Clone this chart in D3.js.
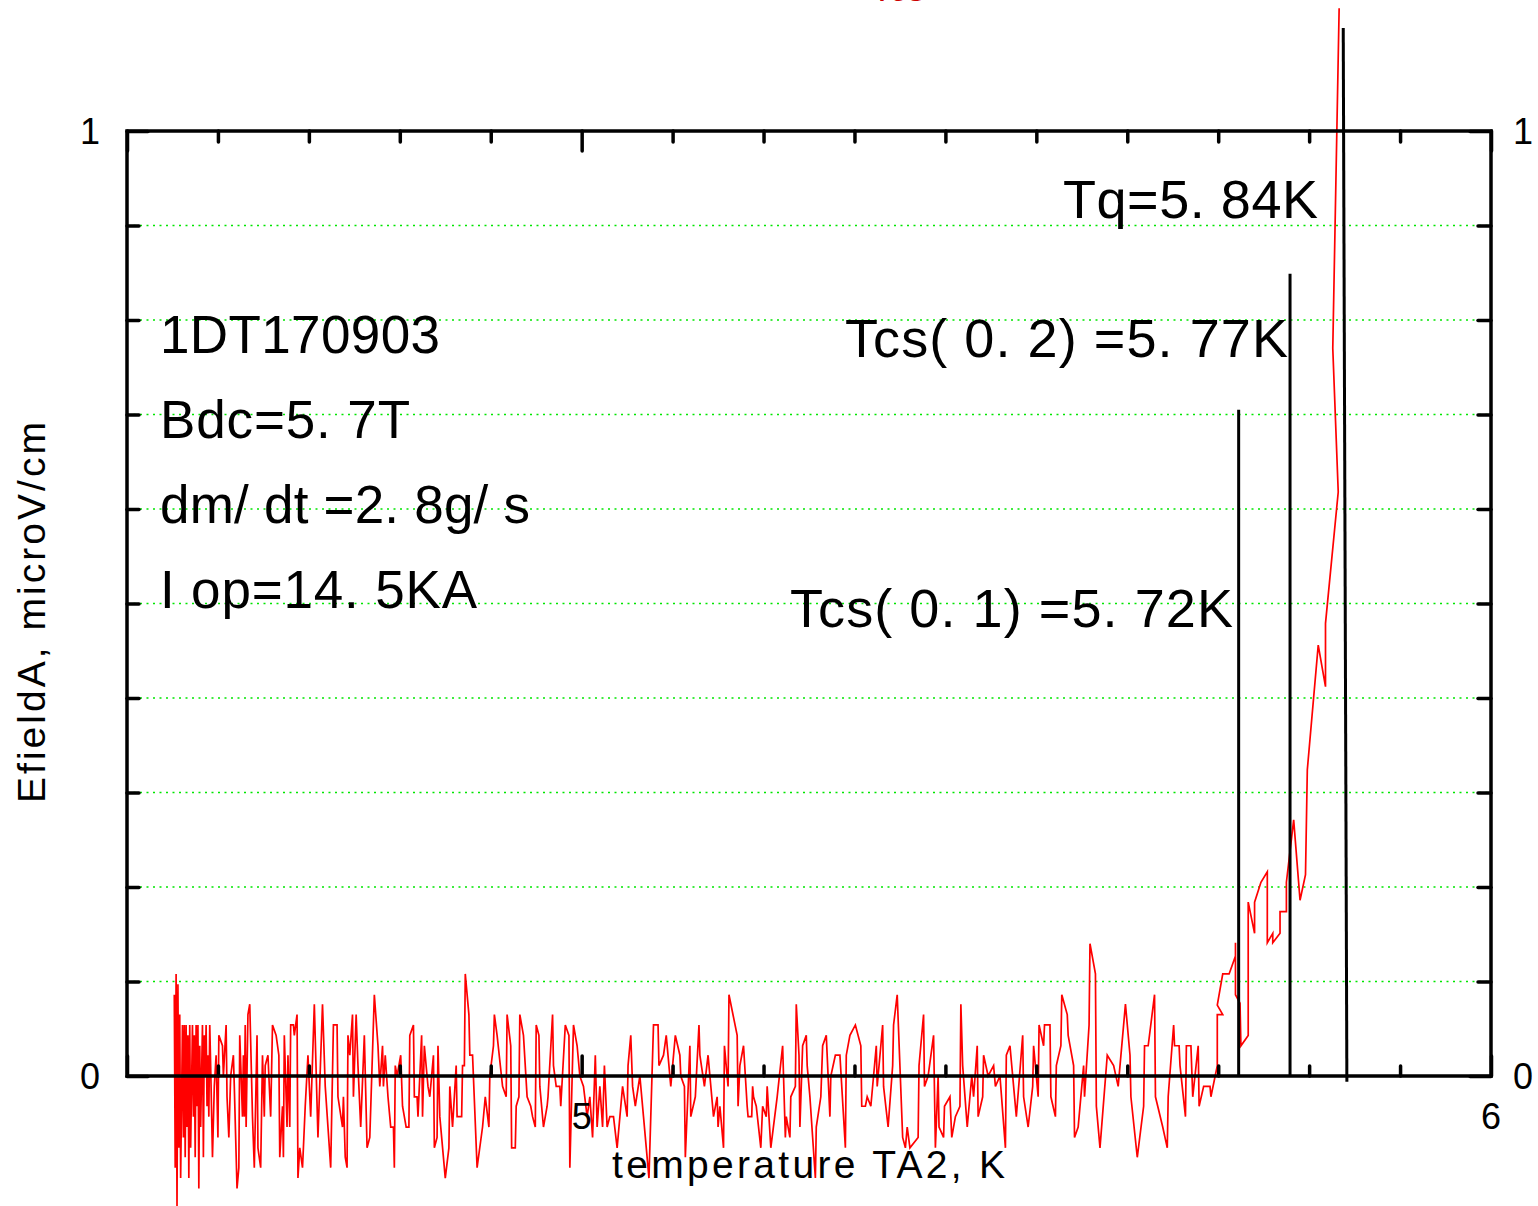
<!DOCTYPE html>
<html><head><meta charset="utf-8">
<script src="https://cdn.jsdelivr.net/npm/d3@7"></script>
<style>
html,body{margin:0;padding:0;background:#fff;}
svg{display:block;font-family:"Liberation Sans",Arial,sans-serif;}
</style></head>
<body>
<svg id="chart" width="1538" height="1206"></svg>
<script>
// ---------- data ----------
const xDomain = [4.5, 6];
const yDomain = [0, 1];
const xLabelTicks = [5, 6];
const xLabelText = ["5", "6"];
const yLabelTicks = [0, 1];
const yLabelText = ["0", "1"];
const xMinorTicks = [4.6, 4.7, 4.8, 4.9, 5.1, 5.2, 5.3, 5.4, 5.5, 5.6, 5.7, 5.8, 5.9];
const xMajorTicks = [4.5, 5, 6];
const yMinorTicks = [0.1, 0.2, 0.3, 0.4, 0.5, 0.6, 0.7, 0.8, 0.9];
const yMajorTicks = [0, 1];
const gridValues = [0.1, 0.2, 0.3, 0.4, 0.5, 0.6, 0.7, 0.8, 0.9];

// noise segment of EfieldA vs temperature TA2
const noiseT = [
4.552,4.553,4.554,4.555,4.556,4.557,4.558,4.559,4.561,4.562,4.563,4.564,4.565,4.566,4.567,4.568,4.569,4.570,4.572,4.573,
4.574,4.575,4.576,4.577,4.578,4.579,4.580,4.581,4.583,4.584,4.585,4.586,4.587,4.588,4.589,4.590,4.591,4.592,4.594,
4.596,4.598,4.599,4.600,4.601,4.605,4.606,4.609,4.610,4.612,4.614,4.617,4.618,4.621,4.623,4.624,4.627,4.628,4.629,4.630,
4.631,4.633,4.635,4.638,4.640,4.643,4.644,4.647,4.649,4.651,4.652,4.655,4.658,4.660,4.664,4.667,4.668,4.671,4.672,4.673,
4.676,4.677,4.679,4.680,4.683,4.684,4.687,4.688,4.690,4.693,4.694,4.696,4.699,4.702,4.706,4.710,4.715,4.718,4.721,4.724,
4.727,4.731,4.732,4.737,4.738,4.740,4.742,4.743,4.745,4.748,4.749,4.752,4.754,4.757,4.761,4.764,4.767,4.772,4.776,4.778,
4.781,4.782,4.784,4.787,4.790,4.793,4.794,4.795,4.797,4.801,4.803,4.807,4.810,4.811,4.815,4.816,4.819,4.820,4.824,4.825,
4.827,4.831,4.833,4.837,4.838,4.841,4.842,4.844,4.850,4.854,4.855,4.858,4.862,4.863,4.868,4.869,4.871,4.872,4.876,4.877,
4.880,4.885,4.891,4.894,4.898,4.899,4.903,4.904,4.907,4.913,4.917,4.918,4.922,4.923,4.927,4.928,4.931,4.932,4.936,4.940,
4.944,4.946,4.949,4.950,4.953,4.954,4.958,4.962,4.963,4.968,4.969,4.972,4.976,4.977,4.982,4.986,4.987,4.991,4.995,4.998,
5.002,5.006,5.009,5.012,5.015,5.017,5.020,5.023,5.025,5.028,5.031,5.035,5.039,5.045,5.050,5.051,5.054,5.056,5.059,5.064,
5.068,5.074,5.079,5.084,5.085,5.090,5.093,5.098,5.100,5.103,5.108,5.109,5.113,5.114,5.119,5.120,5.125,5.129,5.130,5.135,
5.139,5.145,5.149,5.150,5.152,5.156,5.157,5.161,5.162,5.171,5.172,5.174,5.178,5.182,5.183,5.187,5.188,5.189,5.192,5.197,
5.199,5.203,5.204,5.208,5.215,5.221,5.224,5.225,5.229,5.230,5.235,5.236,5.239,5.240,5.243,5.247,5.248,5.251,5.257,5.258,
5.263,5.265,5.269,5.273,5.274,5.279,5.284,5.290,5.291,5.295,5.301,5.307,5.308,5.312,5.314,5.318,5.324,5.325,5.331,5.332,
5.337,5.342,5.343,5.347,5.353,5.356,5.358,5.361,5.370,5.371,5.376,5.377,5.381,5.387,5.389,5.392,5.393,5.398,5.399,5.405,
5.407,5.411,5.416,5.417,5.419,5.424,5.429,5.431,5.435,5.436,5.441,5.442,5.447,5.453,5.455,5.460,5.466,5.467,5.471,5.478,
5.485,5.486,5.491,5.496,5.497,5.502,5.503,5.508,5.509,5.515,5.516,5.521,5.522,5.527,5.528,5.534,5.535,5.541,5.542,5.546,
5.552,5.553,5.558,5.559,5.565,5.566,5.570,5.578,5.585,5.590,5.598,5.603,5.604,5.611,5.618,5.619,5.623,5.630,5.631,5.639,
5.644,5.645,5.651,5.652,5.657,5.658,5.664,5.665,5.670,5.672,5.678,5.679,5.684,5.691,5.692
];
const noiseE = [
0.086,-0.097,0.108,-0.140,0.097,-0.076,0.065,-0.108,0.054,-0.065,0.054,-0.086,0.054,-0.054,0.043,-0.108,0.054,-0.076,0.054,-0.043,
0.043,-0.086,0.054,-0.032,0.054,-0.119,0.032,-0.054,0.054,-0.086,0.043,0.000,0.054,-0.032,0.022,-0.043,0.054,0.011,-0.086,
-0.011,0.022,-0.022,-0.065,0.043,0.032,0.000,0.054,-0.022,-0.065,0.000,0.022,-0.011,-0.119,-0.097,0.043,-0.043,0.022,-0.043,0.054,
-0.054,0.065,0.076,-0.043,-0.097,0.043,-0.076,-0.097,0.022,-0.043,0.011,0.022,-0.043,0.054,0.043,0.022,-0.086,-0.032,-0.086,0.043,
-0.054,0.022,-0.054,0.054,0.054,0.043,0.065,-0.108,-0.076,-0.097,-0.076,-0.032,0.022,-0.043,0.076,-0.065,0.076,-0.011,-0.054,-0.097,
0.054,0.054,-0.022,-0.054,-0.022,-0.086,-0.097,0.043,0.022,0.065,-0.022,0.065,0.011,-0.054,0.043,-0.076,-0.065,0.086,0.032,-0.011,
0.032,-0.011,0.022,-0.022,-0.054,-0.054,-0.097,0.011,0.000,0.022,-0.032,-0.054,-0.054,0.043,0.054,-0.022,-0.022,-0.043,0.043,-0.043,
0.032,-0.011,-0.022,0.022,-0.076,-0.065,0.032,-0.043,-0.108,-0.076,-0.011,-0.054,0.011,-0.043,-0.043,0.011,0.011,0.108,0.065,0.022,
0.022,-0.097,-0.054,-0.022,-0.054,0.000,0.032,0.065,0.043,-0.011,-0.022,0.065,0.032,-0.076,-0.076,-0.032,-0.022,0.065,0.043,-0.022,
-0.032,-0.043,-0.054,0.054,0.043,-0.011,-0.054,-0.032,-0.022,0.065,0.011,-0.011,-0.011,-0.032,0.054,0.043,-0.097,0.054,0.032,0.000,
-0.011,-0.043,-0.022,-0.065,0.022,-0.054,-0.011,-0.054,0.011,-0.054,-0.043,-0.043,-0.076,-0.011,-0.043,0.011,0.043,-0.011,-0.032,0.000,
-0.043,-0.108,0.054,0.054,0.011,0.022,0.043,-0.011,0.011,0.043,0.022,0.000,-0.011,-0.086,0.032,-0.043,-0.022,0.054,0.022,-0.011,
0.022,-0.043,-0.022,-0.054,-0.032,-0.076,0.032,-0.011,0.086,0.043,-0.032,0.011,0.032,-0.032,-0.043,-0.043,-0.011,-0.022,-0.032,-0.076,
-0.032,-0.043,-0.011,-0.076,-0.022,0.032,-0.065,-0.043,-0.065,-0.022,-0.011,0.076,0.022,-0.054,0.032,0.043,0.011,-0.022,-0.108,-0.054,
-0.022,0.032,0.043,-0.043,0.000,0.022,0.022,-0.076,0.022,0.043,0.054,0.032,-0.032,-0.032,-0.022,-0.032,0.032,-0.011,0.054,-0.011,
-0.054,0.011,0.054,0.086,-0.065,-0.076,-0.054,-0.076,-0.065,0.011,0.065,-0.011,0.000,0.043,-0.076,0.000,-0.054,-0.065,-0.032,-0.022,
-0.065,-0.043,-0.032,0.076,0.011,-0.054,0.000,-0.022,0.032,-0.043,-0.022,0.022,0.000,0.011,-0.011,0.000,-0.076,0.022,0.032,-0.043,
0.043,-0.022,-0.054,-0.011,0.032,-0.022,0.054,0.032,0.054,0.054,-0.022,-0.043,0.011,0.032,0.086,0.065,0.043,0.011,-0.065,-0.054,
0.011,-0.022,0.054,0.140,0.108,-0.032,-0.076,0.022,0.011,-0.011,0.076,0.022,-0.022,-0.086,-0.032,0.032,0.032,0.086,-0.022,-0.054,
-0.076,-0.022,0.054,0.032,0.032,0.011,-0.043,0.032,0.032,-0.022,0.032,-0.032,-0.011,-0.011,-0.022
];
// transition segment
const riseT = [5.699,5.699,5.705,5.699,5.705,5.712,5.719,5.719,5.719,5.724,5.725,5.733,5.733,5.740,5.740,5.747,5.754,5.754,5.760,5.760,
5.768,5.768,5.775,5.775,5.783,5.790,5.796,5.798,5.810,5.818,5.818,5.832,5.826,5.833];
const riseE = [0.011,0.065,0.065,0.075,0.108,0.108,0.127,0.141,0.086,0.077,0.032,0.043,0.184,0.151,0.184,0.205,0.216,0.141,0.151,0.141,
0.151,0.174,0.174,0.205,0.271,0.186,0.213,0.324,0.456,0.412,0.479,0.618,0.770,1.130];

// marker lines: Tcs(0.1), Tcs(0.2), Tq
const markerTBottom = [5.7225, 5.779, 5.8415];
const markerTTop = [5.7225, 5.779, 5.8375];
const markerETop = [0.705, 0.849, 1.109];
const markerBottomE = [0, 0, -0.006];
const markerLabels = ["Tcs( 0. 1) =5. 72K", "Tcs( 0. 2) =5. 77K", "Tq=5. 84K"];
const infoLines = ["1DT170903", "Bdc=5. 7T", "dm/ dt =2. 8g/ s", "I op=14. 5KA"];
const xTitle = "temperature TA2, K";
const yTitle = "EfieldA, microV/cm";
const topTitle = "Tcs";

// ---------- drawing ----------
const svg = d3.select("#chart");
const L = 127, R = 1491, T = 131, B = 1076;
const x = d3.scaleLinear().domain(xDomain).range([L, R]);
const y = d3.scaleLinear().domain(yDomain).range([B, T]);

// grid
svg.append("g").selectAll("line").data(gridValues).join("line")
  .attr("x1", L).attr("x2", R).attr("y1", d => y(d)).attr("y2", d => y(d))
  .attr("stroke", "#00e600").attr("stroke-width", 1.5).attr("stroke-dasharray", "2,4.5");

// data line
const pts = noiseT.map((t, i) => [t, noiseE[i]]).concat(riseT.map((t, i) => [t, riseE[i]]));
svg.append("path").datum(pts)
  .attr("d", d3.line().x(d => x(d[0])).y(d => y(d[1])))
  .attr("fill", "none").attr("stroke", "#ff0000").attr("stroke-width", 1.7)
  .attr("stroke-linejoin", "miter");

// axes with inward ticks
function axisG(axisFn, scale, vals, size, tx, ty) {
  const g = svg.append("g").attr("transform", `translate(${tx},${ty})`)
    .call(axisFn(scale).tickValues(vals).tickSize(size).tickFormat(""));
  g.select(".domain").remove();
  g.selectAll(".tick line").attr("stroke", "#000").attr("stroke-width", 3.5).attr("stroke-linecap", "round");
  return g;
}
axisG(d3.axisBottom, x, xMinorTicks, -10, 0, B);
axisG(d3.axisBottom, x, xMajorTicks, -20, 0, B);
axisG(d3.axisTop, x, xMinorTicks, -11, 0, T);
axisG(d3.axisTop, x, xMajorTicks, -20, 0, T);
axisG(d3.axisLeft, y, yMinorTicks, -12, L, 0);
axisG(d3.axisLeft, y, yMajorTicks, -21, L, 0);
axisG(d3.axisRight, y, yMinorTicks, -13, R, 0);
axisG(d3.axisRight, y, yMajorTicks, -21, R, 0);

// frame
svg.append("rect").attr("x", L).attr("y", T).attr("width", R - L).attr("height", B - T)
  .attr("fill", "none").attr("stroke", "#000").attr("stroke-width", 3.5);

// marker lines
svg.append("g").selectAll("line").data(markerTTop).join("line")
  .attr("x1", (d, i) => x(markerTBottom[i])).attr("x2", d => x(d))
  .attr("y1", (d, i) => y(markerBottomE[i])).attr("y2", (d, i) => y(markerETop[i]))
  .attr("stroke", "#000").attr("stroke-width", 3);

// tick labels
const tickFont = 36;
svg.append("g").selectAll("text").data(xLabelTicks).join("text")
  .attr("x", d => x(d)).attr("y", 1129).attr("text-anchor", "middle")
  .attr("font-size", tickFont).text((d, i) => xLabelText[i]);
svg.append("g").selectAll("text").data(yLabelTicks).join("text")
  .attr("x", 90).attr("y", d => y(d) + 13).attr("text-anchor", "middle")
  .attr("font-size", tickFont).text((d, i) => yLabelText[i]);
svg.append("g").selectAll("text").data(yLabelTicks).join("text")
  .attr("x", 1523).attr("y", d => y(d) + 13).attr("text-anchor", "middle")
  .attr("font-size", tickFont).text((d, i) => yLabelText[i]);

// axis titles
svg.append("text").attr("x", 612).attr("y", 1178).attr("font-size", 39)
  .attr("textLength", 393).attr("lengthAdjust", "spacing").text(xTitle);
svg.append("text").attr("transform", "translate(45,803) rotate(-90)").attr("font-size", 39)
  .attr("textLength", 381).attr("lengthAdjust", "spacing").text(yTitle);

// info block
const infoY = [353, 438, 523, 608];
const infoW = [280, 250, 370, 317];
svg.append("g").selectAll("text").data(infoLines).join("text")
  .attr("x", 160).attr("y", (d, i) => infoY[i]).attr("font-size", 53)
  .attr("textLength", (d, i) => infoW[i]).attr("lengthAdjust", "spacing").text(d => d);

// marker labels
const mlX = [790, 845, 1063], mlY = [627, 357, 218], mlW = [443, 443, 255];
svg.append("g").selectAll("text").data(markerLabels).join("text")
  .attr("x", (d, i) => mlX[i]).attr("y", (d, i) => mlY[i]).attr("font-size", 54)
  .attr("textLength", (d, i) => mlW[i]).attr("lengthAdjust", "spacing").text(d => d);

// red title at the very top, clipped by the top edge as in the reference
svg.append("text").attr("x", 925).attr("y", 1).attr("text-anchor", "end")
  .attr("font-size", 36).attr("fill", "#cc0000").text(topTitle);
</script>
</body></html>
